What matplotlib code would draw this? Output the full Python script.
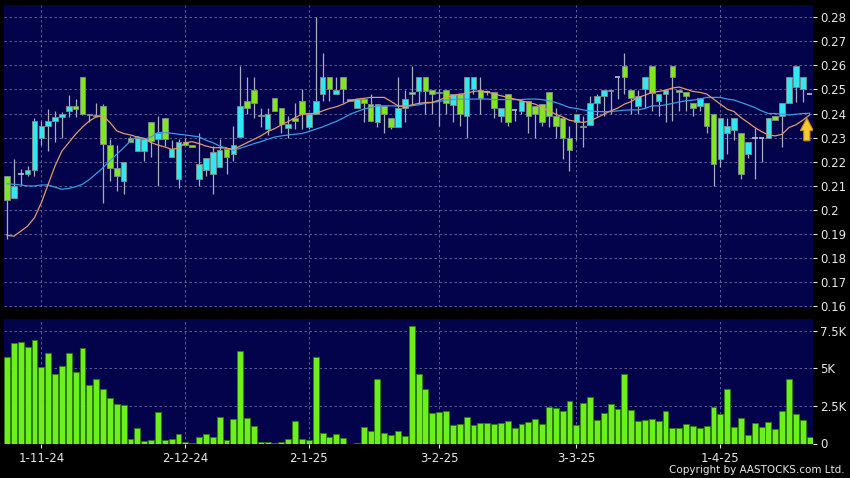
import matplotlib
matplotlib.use("Agg")
import matplotlib.pyplot as plt
from matplotlib.patches import Polygon
import numpy as np

# ---------------- data ----------------
opens = [0.214, 0.205, 0.215, 0.215, 0.2165, 0.230, 0.235, 0.237, 0.2385, 0.241,
         0.243, 0.255, 0.240, 0.2393, 0.2432, 0.2269, 0.2172, 0.212, 0.230, 0.2244,
         0.2244, 0.2363, 0.2293, 0.2383, 0.222, 0.2129, 0.2282, 0.2268, 0.2129, 0.2164,
         0.215, 0.2179, 0.2251, 0.2233, 0.2303, 0.245, 0.2497, 0.2388, 0.2335, 0.2463,
         0.2421, 0.2339, 0.2383, 0.245, 0.2342, 0.240, 0.2483, 0.255, 0.2483, 0.255,
         0.245, 0.2421, 0.246, 0.2439, 0.2363, 0.2432, 0.2383, 0.2342, 0.2421, 0.2483,
         0.2492, 0.255, 0.2499, 0.2485, 0.2499, 0.2435, 0.2481, 0.239, 0.2501, 0.2499,
         0.249, 0.249, 0.239, 0.2481, 0.2415, 0.2411, 0.245, 0.2432, 0.2439, 0.249,
         0.239, 0.2381, 0.230, 0.2363, 0.2349, 0.2351, 0.2442, 0.2471, 0.2494, 0.255,
         0.2599, 0.2499, 0.2432, 0.2501, 0.2599, 0.245, 0.2483, 0.2599, 0.2497, 0.249,
         0.2442, 0.2432, 0.2442, 0.240, 0.2213, 0.2321, 0.2333, 0.2321, 0.2233, 0.230,
         0.230, 0.230, 0.2391, 0.239, 0.2442, 0.251, 0.2501, 0.2483]
highs = [0.214, 0.221, 0.217, 0.218, 0.238, 0.237, 0.242, 0.241, 0.2405, 0.2475,
         0.246, 0.255, 0.240, 0.2442, 0.244, 0.2293, 0.227, 0.220, 0.2307, 0.2297,
         0.2293, 0.2363, 0.239, 0.2383, 0.2289, 0.2293, 0.230, 0.2268, 0.2321, 0.2214,
         0.2265, 0.2293, 0.2251, 0.2349, 0.2599, 0.255, 0.255, 0.2421, 0.2421, 0.2463,
         0.2421, 0.239, 0.2442, 0.250, 0.2397, 0.280, 0.265, 0.255, 0.255, 0.255,
         0.246, 0.246, 0.246, 0.2483, 0.2439, 0.2432, 0.2383, 0.255, 0.2497, 0.2599,
         0.255, 0.255, 0.2499, 0.250, 0.2499, 0.2481, 0.2481, 0.255, 0.255, 0.255,
         0.2499, 0.249, 0.2421, 0.2481, 0.2418, 0.246, 0.245, 0.2432, 0.2439, 0.249,
         0.2421, 0.2381, 0.2349, 0.240, 0.239, 0.2474, 0.2483, 0.2499, 0.2497, 0.255,
         0.2651, 0.2499, 0.2499, 0.255, 0.2599, 0.2483, 0.2497, 0.2599, 0.2497, 0.249,
         0.2442, 0.2463, 0.2442, 0.240, 0.2383, 0.2383, 0.2383, 0.2321, 0.2282, 0.2339,
         0.230, 0.2381, 0.2391, 0.2442, 0.255, 0.2599, 0.255, 0.2483]
lows = [0.188, 0.205, 0.2105, 0.214, 0.214, 0.227, 0.2245, 0.228, 0.230, 0.2385,
        0.2385, 0.2395, 0.2363, 0.2385, 0.203, 0.212, 0.208, 0.2065, 0.228, 0.2244,
        0.2203, 0.222, 0.2099, 0.2265, 0.222, 0.2092, 0.2265, 0.2261, 0.2099, 0.214,
        0.2064, 0.2179, 0.215, 0.2203, 0.2303, 0.240, 0.2383, 0.2342, 0.231, 0.2411,
        0.2321, 0.230, 0.2335, 0.2335, 0.2335, 0.240, 0.245, 0.245, 0.2483, 0.2442,
        0.245, 0.2421, 0.2363, 0.2369, 0.2342, 0.2321, 0.2335, 0.2342, 0.2363, 0.2439,
        0.2439, 0.240, 0.240, 0.2349, 0.240, 0.2363, 0.2349, 0.230, 0.2481, 0.240,
        0.2475, 0.2383, 0.2363, 0.2349, 0.2369, 0.2397, 0.2321, 0.230, 0.2349, 0.2342,
        0.230, 0.221, 0.2161, 0.2289, 0.2261, 0.2351, 0.239, 0.239, 0.240, 0.2462,
        0.2483, 0.240, 0.2397, 0.2421, 0.2411, 0.239, 0.2363, 0.2369, 0.2411, 0.2411,
        0.239, 0.2411, 0.2321, 0.2099, 0.2178, 0.2231, 0.2289, 0.2129, 0.2215, 0.2129,
        0.220, 0.230, 0.2372, 0.2261, 0.2442, 0.2449, 0.2449, 0.2483]
closes = [0.204, 0.210, 0.215, 0.2165, 0.237, 0.235, 0.237, 0.2385, 0.240, 0.243,
          0.242, 0.240, 0.2395, 0.239, 0.2272, 0.2172, 0.214, 0.220, 0.2283, 0.2297,
          0.2293, 0.2286, 0.2321, 0.2293, 0.2251, 0.2282, 0.2269, 0.2261, 0.2192, 0.2214,
          0.2242, 0.2249, 0.222, 0.2269, 0.2432, 0.2421, 0.2442, 0.2394, 0.240, 0.2411,
          0.2356, 0.2357, 0.2369, 0.240, 0.2397, 0.245, 0.255, 0.2501, 0.2499, 0.2501,
          0.246, 0.246, 0.2442, 0.2369, 0.2439, 0.240, 0.2342, 0.2421, 0.246, 0.249,
          0.255, 0.2492, 0.2483, 0.249, 0.2442, 0.2481, 0.240, 0.255, 0.255, 0.2463,
          0.249, 0.2421, 0.2421, 0.2363, 0.2415, 0.245, 0.239, 0.240, 0.2363, 0.239,
          0.2349, 0.230, 0.2249, 0.240, 0.2342, 0.2442, 0.2471, 0.2499, 0.2497, 0.255,
          0.255, 0.2463, 0.2471, 0.255, 0.2485, 0.2483, 0.2497, 0.255, 0.249, 0.2471,
          0.2421, 0.2463, 0.2349, 0.2192, 0.2383, 0.2349, 0.2383, 0.215, 0.2282, 0.230,
          0.230, 0.2381, 0.2372, 0.2442, 0.255, 0.2599, 0.255, 0.2483]
ma_short = [0.1894, 0.189, 0.1911, 0.1932, 0.1967, 0.2029, 0.2106, 0.2182, 0.2244, 0.2279,
            0.2314, 0.2344, 0.2369, 0.2386, 0.239, 0.2363, 0.2328, 0.2317, 0.2311, 0.2302,
            0.2297, 0.2279, 0.2269, 0.2261, 0.2251, 0.2256, 0.2279, 0.2283, 0.2275, 0.2265,
            0.2258, 0.2258, 0.2256, 0.2251, 0.2265, 0.2279, 0.2293, 0.2307, 0.2325, 0.2337,
            0.2353, 0.2367, 0.2383, 0.2397, 0.240, 0.240, 0.2411, 0.2421, 0.2428, 0.2439,
            0.2453, 0.246, 0.2463, 0.2467, 0.2467, 0.2467, 0.245, 0.2432, 0.243, 0.2436,
            0.2442, 0.2446, 0.2446, 0.2456, 0.2467, 0.2474, 0.2481, 0.2483, 0.2492, 0.2494,
            0.249, 0.2481, 0.2474, 0.2467, 0.246, 0.2453, 0.2446, 0.2439, 0.2426, 0.2411,
            0.2397, 0.2386, 0.2372, 0.2367, 0.2363, 0.2369, 0.2383, 0.2397, 0.2411, 0.2422,
            0.2439, 0.245, 0.2467, 0.2476, 0.2488, 0.2492, 0.2497, 0.2506, 0.251, 0.2501,
            0.2492, 0.2488, 0.2481, 0.246, 0.2439, 0.2418, 0.2408, 0.2383, 0.2363, 0.2342,
            0.2325, 0.2311, 0.2307, 0.2314, 0.2342, 0.2353, 0.2372, 0.2394]
ma_long = [0.2108, 0.2106, 0.2103, 0.2099, 0.2099, 0.2103, 0.2103, 0.2094, 0.2085, 0.2089,
           0.2096, 0.2106, 0.2126, 0.215, 0.2175, 0.2203, 0.2231, 0.2258, 0.2286, 0.2305,
           0.2293, 0.2303, 0.2321, 0.2321, 0.2318, 0.2314, 0.2311, 0.2307, 0.2303, 0.2289,
           0.2279, 0.2265, 0.2256, 0.2247, 0.2256, 0.2265, 0.2275, 0.2283, 0.2293, 0.2302,
           0.2307, 0.2311, 0.2314, 0.2317, 0.2325, 0.2335, 0.2344, 0.2356, 0.2367, 0.2381,
           0.2397, 0.2408, 0.2418, 0.2425, 0.2432, 0.2432, 0.2432, 0.2431, 0.243, 0.2432,
           0.2436, 0.2442, 0.2446, 0.245, 0.2456, 0.2458, 0.246, 0.246, 0.246, 0.246,
           0.246, 0.2458, 0.2458, 0.2458, 0.2458, 0.2458, 0.246, 0.246, 0.2458, 0.2453,
           0.2446, 0.2436, 0.2425, 0.2421, 0.2415, 0.2411, 0.2408, 0.2408, 0.2408, 0.2411,
           0.2414, 0.2415, 0.2415, 0.2421, 0.2432, 0.2432, 0.2436, 0.2442, 0.2448, 0.2453,
           0.2456, 0.246, 0.2467, 0.2467, 0.2467, 0.246, 0.2456, 0.2446, 0.2436, 0.2425,
           0.2411, 0.240, 0.240, 0.2397, 0.2394, 0.2397, 0.240, 0.2401]
volumes = [5750, 6700, 6760, 6450, 6900, 5080, 6030, 4600, 5150, 6030,
           4750, 6390, 3870, 4270, 3600, 3050, 2650, 2540, 330, 1060,
           180, 265, 2080, 265, 290, 620, 110, 45, 440, 640,
           420, 1770, 265, 1610, 6190, 1700, 1170, 130, 130, 40,
           130, 290, 1500, 330, 265, 5790, 730, 420, 660, 350,
           0, 40, 1080, 820, 4310, 710, 550, 800, 510, 7820,
           4640, 3650, 2010, 2100, 2190, 1215, 1280, 1750, 1215, 1390,
           1350, 1300, 1390, 1525, 1040, 1330, 1410, 1610, 1330, 2410,
           2360, 2170, 2850, 1215, 2720, 3070, 1590, 2055, 2610, 2280,
           4640, 2210, 1500, 1550, 1610, 1500, 2140, 1060, 1060, 1330,
           1190, 1060, 1190, 2410, 1940, 3650, 1080, 1680, 550, 1390,
           1100, 1440, 970, 2190, 4290, 1970, 1550, 400]
date_labels = ["1-11-24", "2-12-24", "2-1-25", "3-2-25", "3-3-25", "1-4-25"]
date_index = [5, 26, 44, 63, 83, 104]
price_ticks = [0.16, 0.17, 0.18, 0.19, 0.20, 0.21, 0.22, 0.23, 0.24, 0.25, 0.26, 0.27, 0.28]
vol_ticks = [0, 2500, 5000, 7500]
vol_tick_labels = ["0", "2.5K", "5K", "7.5K"]

# ---------------- styling ----------------
BG = "#02034a"
UP = "#30e8f2"
DOWN = "#80e61e"
EDGE = "#7f8f86"
WICK = "#a9acbf"
GRID = "#6a6c9c"
TXT = "#e8e8e8"

plt.rcParams['font.family'] = ['DejaVu Sans']
fig = plt.figure(figsize=(8.5, 4.78), dpi=100, facecolor="black")
ax = fig.add_axes([4/850, 1-307/478, 809/850, 302/478], facecolor=BG)
axv = fig.add_axes([4/850, 1-443.5/478, 809/850, 124.5/478], facecolor=BG)

n = len(closes)
x = np.arange(n)
o = np.array(opens); c = np.array(closes); h = np.array(highs); l = np.array(lows)

for a in (ax, axv):
    for s in a.spines.values():
        s.set_visible(False)
    a.set_xlim(-0.44, 117.5)
    a.set_xticks(date_index)
    a.grid(True, color=GRID, linestyle=(0, (3, 3)), linewidth=0.6)
    a.set_axisbelow(True)
    a.yaxis.tick_right()
    a.tick_params(axis='y', colors=TXT, labelcolor=TXT, length=3, width=0.8, pad=2, labelsize=8.5)

# price panel
ax.set_ylim(0.1596, 0.2851)
ax.set_yticks(price_ticks)
ax.set_yticklabels(["%g" % t for t in price_ticks])
ax.tick_params(axis='x', bottom=False, labelbottom=False)

ax.vlines(x, l, h, color=WICK, linewidth=0.9, zorder=2)
up = c > o
dn = c < o
dj = c == o
w = 0.82
ax.bar(x[up], (c - o)[up], bottom=o[up], width=w, color=UP, edgecolor=EDGE, linewidth=0.6, zorder=3)
ax.bar(x[dn], (o - c)[dn], bottom=c[dn], width=w, color=DOWN, edgecolor=EDGE, linewidth=0.6, zorder=3)
ax.hlines(c[dj], x[dj] - w/2, x[dj] + w/2, color="#b8c4d4", linewidth=1.2, zorder=3)

ax.plot(x, ma_long, color="#3b9be6", linewidth=0.9, zorder=4)
ax.plot(x, ma_short, color="#e39a6a", linewidth=0.9, zorder=5)

# yellow arrow marker
ax_x, tip, base = 116.6, 0.2381, 0.2287
hw, sw, hl = 0.95, 0.45, 0.0052
arrow = Polygon([(ax_x, tip), (ax_x + hw, tip - hl), (ax_x + sw, tip - hl), (ax_x + sw, base),
                 (ax_x - sw, base), (ax_x - sw, tip - hl), (ax_x - hw, tip - hl)],
                closed=True, facecolor="#f8c830", edgecolor="#c98a12", linewidth=0.8, zorder=6)
ax.add_patch(arrow)

# volume panel
axv.set_ylim(0, 8290)
axv.set_yticks(vol_ticks)
axv.set_yticklabels(vol_tick_labels)
axv.bar(x, volumes, width=0.86, color="#6cf01c", edgecolor="#2e7c06", linewidth=0.6, zorder=3)
axv.set_xticklabels(date_labels)
axv.tick_params(axis='x', colors=TXT, labelcolor=TXT, length=3, width=0.8, pad=3, labelsize=8.5)

fig.text(0.994, 0.006, "Copyright by AASTOCKS.com Ltd.", color=TXT, fontsize=7.5,
         ha="right", va="bottom")

fig.savefig("out.png", dpi=100, facecolor="black")
